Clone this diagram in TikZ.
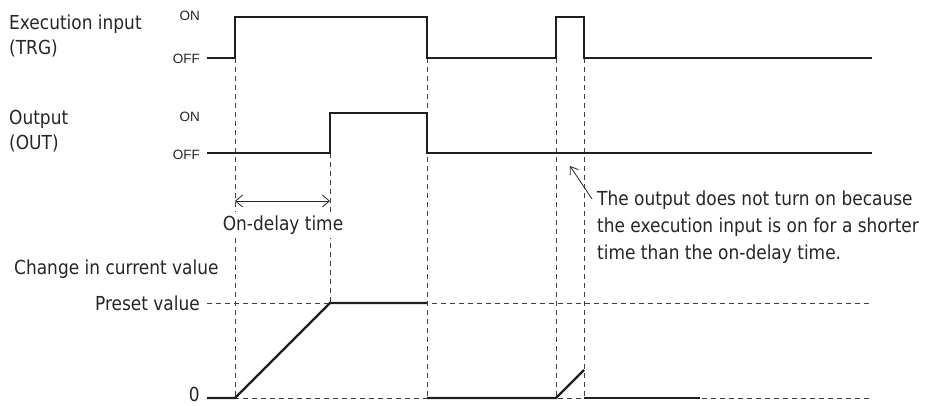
\documentclass[tikz,border=0pt]{standalone}
\usepackage{fontspec}
\setmainfont[FakeStretch=0.88]{DejaVu Sans}
\newfontfamily\lvlfont{Liberation Sans}
\usetikzlibrary{arrows.meta}
\begin{document}
\begin{tikzpicture}[x=1pt,y=-1pt,
  sig/.style={line width=2.3pt, line join=miter, color=black!88},
  guide/.style={line width=0.9pt, dash pattern=on 5pt off 4pt, color=black!75},
  lbl/.style={font=\fontsize{19.3}{25.5}\selectfont, inner sep=0pt, text=black!85},
  lvl/.style={font=\lvlfont\fontsize{13.5}{15}\selectfont, inner sep=0pt, anchor=east, text=black!85},
  barb/.style={line width=0.8pt, color=black!85}
]
\useasboundingbox (0,0) rectangle (928,405);

% guide lines
\draw[guide] (235,58) -- (235,398);
\draw[guide] (330,153) -- (330,303);
\draw[guide] (427,58) -- (427,398);
\draw[guide] (556,58) -- (556,398);
\draw[guide] (584,58) -- (584,398);
\draw[guide] (207,303) -- (872,303);
\draw[guide] (207,398) -- (872,398);

% signals
\draw[sig] (207,58) -- (235,58) -- (235,17) -- (427,17) -- (427,58) -- (556,58)
  -- (556,17) -- (584,17) -- (584,58) -- (872,58);
\draw[sig] (207,153) -- (330,153) -- (330,113) -- (427,113) -- (427,153) -- (872,153);
\draw[sig] (207,398) -- (235,398) -- (330,303) -- (427,303);
\draw[sig] (427,398) -- (556,398) -- (584,370);
\draw[sig] (584,398) -- (700,398);

% left labels
\node[lbl, anchor=west, align=left] (trg) at (9,36) {Execution input\\(TRG)};
\node[lbl, anchor=west, align=left] (out) at (9,131) {Output\\(OUT)};
\node[lvl] (on1) at (200,16) {ON};
\node[lvl] (off1) at (200,59) {OFF};
\node[lvl] (on2) at (200,117) {ON};
\node[lvl] (off2) at (200,155) {OFF};

% on-delay time
\coordinate (da) at (235,201);
\coordinate (db) at (330,201);
\draw[barb, {Straight Barb[length=7pt,width=12pt]}-{Straight Barb[length=7pt,width=12pt]}] (da) -- (db);
\node[lbl, fill=white, inner ysep=4pt] (odt) at (283,225) {On-delay time};

% current value
\node[lbl, anchor=west] (chg) at (14,269) {Change in current value};
\node[lbl, anchor=east] (pre) at (200,303) {Preset value};
\node[lbl, anchor=east] (zero) at (200,394) {0};

% annotation
\node[lbl, anchor=west, align=left, font=\fontsize{19.3}{27}\selectfont] (note) at (597,227)
  {The output does not turn on because\\the execution input is on for a shorter\\time than the on-delay time.};
\coordinate (tail) at (592,199);
\coordinate (tip) at (570,166);
\draw[barb, -{Straight Barb[length=7pt,width=10pt]}] (tail) -- (tip);
\end{tikzpicture}
\end{document}
